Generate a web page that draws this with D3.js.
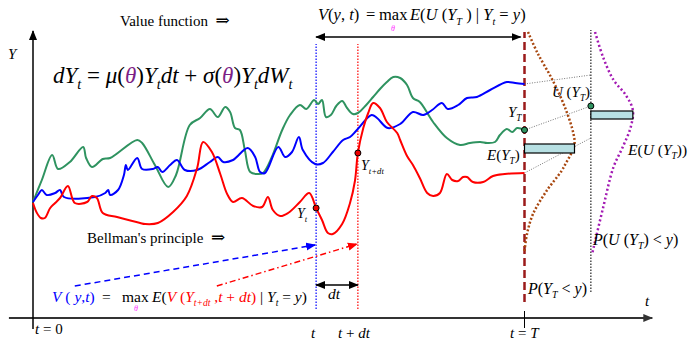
<!DOCTYPE html>
<html>
<head>
<meta charset="utf-8">
<script src="https://cdn.jsdelivr.net/npm/d3@7"></script>
<style>
  body { margin: 0; background: #fff; }
  svg { display: block; font-family: "Liberation Serif", "DejaVu Serif", serif; }
</style>
</head>
<body>
<svg id="chart" width="689" height="342"></svg>
<script>
// sample paths, [t, Y] with t in 0..T (T = 100)
const greenPath = [[0,58],[1.8,69],[3.9,81.5],[5.1,74.5],[7.5,78],[10.2,85.5],[10.8,80],[12,75.5],[14.2,79.5],[15.7,80],
  [21.2,89],[22.2,87.5],[24.8,76.5],[27.5,65.5],[29.1,71.5],[31.9,96.5],[34,100],[36,104.5],[37.6,100.5],[39.1,105.5],
  [40.1,103],[41.1,95],[42.1,94],[43.1,84],[44.2,73],[45.8,72],[46.8,72.5],[48.6,80.5],[50.7,94],[52.3,101.5],
  [54.3,106.5],[55.6,104.5],[57.2,109],[58,107],[58.8,109],[59.6,100.5],[60.6,101.5],[61.7,106],[62.9,108.5],[63.9,105],
  [65.1,102],[66.1,102.5],[67.8,106.5],[69.2,110.5],[70.6,114.5],[72,118],[73.3,120.5],[74.7,120],[76.1,116.5],[77.3,110],
  [78.7,108],[81.4,98],[84.2,90],[86.9,86.5],[88.9,87.5],[91,88],[92.4,87.5],[94,88],[95,91.5],[96.4,94.5],
  [97.5,93],[98.5,95],[100,94]];
const bluePath = [[0,58],[1,61.5],[1.8,64],[2.8,61.5],[4.5,62.5],[5.5,64],[6.3,60.5],[12.6,60.5],[14.7,62.5],[15.3,64],
  [15.7,61.5],[17.3,64],[18.5,71.5],[18.9,76.5],[19.3,74],[21.2,80],[22.2,74.5],[24.4,74.5],[25.4,75.5],[26.3,73],
  [27.9,76.5],[29.3,79],[30.9,74],[33.4,74],[36,78],[37.6,80.5],[38.7,78],[40.7,79],[43.7,85],[45.2,80.5],
  [46.2,73],[47.2,72.5],[49.9,85.5],[51.3,80.5],[52.7,83],[54.1,90.5],[54.9,84],[57.4,77],[59,77.5],[61,83],
  [63.1,89],[64.5,90.5],[65.9,94],[68.9,101.5],[70,100],[72.2,95],[74.7,97],[77.3,103],[79.4,101.5],[81.2,104],
  [83.2,107.5],[84.4,104.5],[86.5,106.5],[88.3,110],[90.3,110.5],[93,114],[96.4,118],[98.1,117.5],[100,117]];
const redPath = [[0,57.5],[0.8,52.5],[1.6,50],[2.4,50],[3.5,55],[4.5,57.5],[5.5,60],[7.1,66],[8.5,57.5],[11,58],
  [12,61],[13,60],[14.2,52.5],[17.1,50.5],[21.8,47.5],[22.8,47],[25.4,47.5],[28.5,53],[31.3,61],[33.4,75],
  [34.6,88],[36.4,83],[38.1,72],[39.5,62],[40.7,58],[42.5,60],[44.8,56],[46.6,55.5],[47.8,60.5],[48.8,54],
  [50.3,51],[51.9,52.5],[54.3,58],[56.2,62.5],[57.6,55],[58.8,49],[60,42.5],[61,42],[62.9,47],[64.5,57.5],
  [65.5,68.5],[66.1,82.5],[67.2,95],[68.2,102.5],[69.2,107.5],[70.6,105],[72,98],[74.1,92.5],[74.7,89],[76.1,81],
  [77.3,76.5],[78.7,70],[80.2,62.5],[81.4,61],[82.8,62.5],[84.2,72],[85.3,69],[86.5,68.5],[87.5,70.5],[88.3,70.5],
  [89.5,68],[91.6,68],[93.6,71],[96,72],[100,72.5]];

const tNow = 57.6, tNext = 66.1, T = 100, tU = 113.5;

// densities at T: [Y, relative density]
const densityY = [[143,0.07],[132.5,0.26],[119,0.56],[104,0.83],[92,0.98],[87,1],[82,0.93],[77.5,0.83],[73.5,0.74],
  [63.5,0.44],[52,0.17],[42,0.05],[33.5,0]];
const densityU = [[143,0.1],[130.5,0.29],[119,0.54],[111.5,0.83],[104,1],[95.5,0.95],[85.5,0.76],[75.5,0.54],
  [55,0.29],[32,0.03]];
const expectY = [82.5, 87];     // E(Y_T) band
const expectU = [99.5, 103.5];  // E(U(Y_T)) band
const utilIn = [72.5, 94, 117];
const utilOut = [90, 106, 121.5];

const svg = d3.select('#chart');
const x = d3.scaleLinear().domain([0, T]).range([33, 524.5]);
const y = d3.scaleLinear().domain([0, 144]).range([318, 30]);
const densX = d3.scaleLinear().domain([0, 1]).range([0, 50]);
const densUX = d3.scaleLinear().domain([0, 1]).range([0, 42]);

const defs = svg.append('defs');
function marker(id, color) {
  defs.append('marker').attr('id', id).attr('viewBox', '0 0 10 10').attr('refX', 9).attr('refY', 5)
    .attr('markerWidth', 10).attr('markerHeight', 10).attr('markerUnits', 'userSpaceOnUse').attr('orient', 'auto-start-reverse')
    .append('path').attr('d', 'M0,1 L10,5 L0,9 Z').attr('fill', color);
}
marker('arBlack', '#000');
marker('arGray', '#333');
marker('arBlue', '#0000ff');
marker('arRed', '#ff0000');

function seg(x1, y1, x2, y2) {
  return svg.append('line').attr('x1', x(x1)).attr('y1', y(y1)).attr('x2', x(x2)).attr('y2', y(y2));
}

// axes
seg(-4.9, 0, 126, 0).attr('stroke', '#333').attr('stroke-width', 2).attr('marker-end', 'url(#arGray)');
seg(0, -5.5, 0, 143.5).attr('stroke', '#000').attr('stroke-width', 1.5).attr('marker-end', 'url(#arBlack)');
seg(T, 3.5, T, -5).attr('stroke', '#000').attr('stroke-width', 1);

// vertical guides
seg(tNow, 4.5, tNow, 137).attr('stroke', '#0000ff').attr('stroke-width', 1.2).attr('stroke-dasharray', '1.5,1.5');
seg(tNext, 4.5, tNext, 137).attr('stroke', '#ff0000').attr('stroke-width', 1.2).attr('stroke-dasharray', '1.5,1.5');
seg(tU, 13, tU, 144).attr('stroke', '#333').attr('stroke-width', 1.3).attr('stroke-dasharray', '1.5,1.5');
seg(T, 8, T, 143).attr('stroke', '#9b1b1b').attr('stroke-width', 2.5).attr('stroke-dasharray', '8,4');

// top span arrow and dt arrow
seg(tNow, 140.5, 99.2, 140.5).attr('stroke', '#000').attr('stroke-width', 1.3)
  .attr('marker-start', 'url(#arBlack)').attr('marker-end', 'url(#arBlack)');
seg(tNow, 16.5, tNext, 16.5).attr('stroke', '#000').attr('stroke-width', 1.3)
  .attr('marker-start', 'url(#arBlack)').attr('marker-end', 'url(#arBlack)');

// Bellman arrows
seg(8.5, 16, 57.4, 36.5).attr('stroke', '#0000ff').attr('stroke-width', 1.5).attr('stroke-dasharray', '6,4')
  .attr('marker-end', 'url(#arBlue)');
seg(37.4, 16, 65.9, 37).attr('stroke', '#ff0000').attr('stroke-width', 1.5).attr('stroke-dasharray', '6,3,1.5,3')
  .attr('marker-end', 'url(#arRed)');

// utility mapping lines
utilIn.forEach((v, i) => {
  seg(T, v, tU, utilOut[i]).attr('stroke', '#555').attr('stroke-width', 0.8).attr('stroke-dasharray', '1,1.5');
});

// densities
const densLine = d3.line().x(d => x(T) + densX(d[1])).y(d => y(d[0])).curve(d3.curveCatmullRom);
svg.append('path').attr('d', densLine(densityY)).attr('fill', 'none').attr('stroke', '#a8470f')
  .attr('stroke-width', 2.5).attr('stroke-dasharray', '2,2');
const densULine = d3.line().x(d => x(tU) + densUX(d[1])).y(d => y(d[0])).curve(d3.curveCatmullRom);
svg.append('path').attr('d', densULine(densityU)).attr('fill', 'none').attr('stroke', '#a31ab3')
  .attr('stroke-width', 2.5).attr('stroke-dasharray', '2,2.5');

// expectation bands
svg.append('rect').attr('x', x(T)).attr('y', y(expectY[1])).attr('width', densX(1)).attr('height', y(expectY[0]) - y(expectY[1]))
  .attr('fill', '#b7e0e3').attr('stroke', '#000').attr('stroke-width', 1.2);
svg.append('rect').attr('x', x(tU)).attr('y', y(expectU[1])).attr('width', densUX(1)).attr('height', y(expectU[0]) - y(expectU[1]))
  .attr('fill', '#b7e0e3').attr('stroke', '#000').attr('stroke-width', 1.2);

// sample paths
const line = d3.line().x(d => x(d[0])).y(d => y(d[1])).curve(d3.curveCatmullRom.alpha(0.5));
[[greenPath, '#2f9360'], [bluePath, '#0000ff'], [redPath, '#ff0000']].forEach(([p, c]) => {
  svg.append('path').attr('d', line(p)).attr('fill', 'none').attr('stroke', c).attr('stroke-width', 2)
    .attr('stroke-linejoin', 'round');
});

// dots
const atT = t => redPath.find(d => d[0] === t)[1];
[[tNow, atT(tNow), '#e00'], [tNext, atT(tNext), '#e00'], [T, greenPath[greenPath.length - 1][1], '#2f9360'], [tU, utilOut[1], '#2f9360']]
  .forEach(([t, v, c]) => {
    svg.append('circle').attr('cx', x(t)).attr('cy', y(v)).attr('r', 3).attr('fill', c).attr('stroke', '#000').attr('stroke-width', 1);
  });

// rich text helper: parts = [text, {i, s, c}]
function rich(px, py, size, parts, anchor) {
  const t = svg.append('text').attr('x', px).attr('y', py).attr('font-size', size).attr('fill', '#000')
    .attr('xml:space', 'preserve').style('white-space', 'pre');
  if (anchor) t.attr('text-anchor', anchor);
  let shift = 0;
  parts.forEach(([str, o = {}]) => {
    const target = o.s ? size * 0.28 : 0;
    const ts = t.append('tspan').text(str);
    if (target !== shift) ts.attr('dy', target - shift);
    shift = target;
    if (o.s) ts.attr('font-size', size * 0.62);
    if (o.i) ts.attr('font-style', 'italic');
    if (o.c) ts.attr('fill', o.c);
  });
  return t;
}
function theta(px, py) {
  svg.append('text').attr('x', px).attr('y', py).attr('font-size', 8).attr('font-style', 'italic')
    .attr('text-anchor', 'middle').attr('fill', '#ff33ff').text('\u03B8');
}
const I = { i: 1 }, S = { i: 1, s: 1 };
const purple = '#7d1f86', blue = '#0000ff', red = '#ff0000';
const B = c => ({ c }), BI = c => ({ i: 1, c });

rich(120, 26, 15, [['Value function  '], ['\u21D2', {}]]).select('tspan:last-child').attr('font-size', 17);

// V(y,t) = max E(U(Y_T) | Y_t = y)
rich(318, 20, 16.5, [['V', I], ['('], ['y', I], [', '], ['t', I], [')']]);
rich(366, 20, 16.5, [['=']]);
rich(379, 20, 16.5, [['max']]);
theta(393, 31);
rich(410, 20, 16.5, [['E', I], ['('], ['U', I], [' ('], ['Y', I], ['T', S], [' ) | '], ['Y', I], ['t', S], [' = '], ['y', I], [')']]);

rich(53, 83, 23, [['dY', I], ['t', S], [' = '], ['\u03BC', I], ['('], ['\u03B8', { i: 1, c: purple }], [')'], ['Y', I], ['t', S],
  ['dt', I], [' + '], ['\u03C3', I], ['('], ['\u03B8', { i: 1, c: purple }], [')'], ['Y', I], ['t', S], ['dW', I], ['t', S]]);

rich(8, 59, 15, [['Y', I]]);
rich(35, 334, 15, [['t', I], [' = 0']]);
rich(313, 338, 15, [['t', I]], 'middle');
rich(338, 338, 15, [['t', I], [' + '], ['dt', I]]);
rich(510, 338, 15, [['t', I], [' = '], ['T', I]]);
rich(645, 306, 15, [['t', I]]);

rich(87, 243, 15, [['Bellman\'s principle  '], ['\u21D2', {}]]).select('tspan:last-child').attr('font-size', 17);

// V(y,t) = max E(V(Y_{t+dt}, t+dt) | Y_t = y)
rich(52, 302, 15.5, [['V', BI(blue)], [' ( ', B(blue)], ['y', BI(blue)], [',', B(blue)], ['t', BI(blue)], [')', B(blue)]]);
rich(102, 302, 15.5, [['=']]);
rich(122, 302, 15.5, [['max']]);
theta(136, 311);
rich(152, 302, 15.5, [['E', I], ['('], ['V', BI(red)], [' (', B(red)], ['Y', BI(red)], ['t+dt', { i: 1, s: 1, c: red }],
  [' ,', B(red)], ['t', BI(red)], [' + ', B(red)], ['dt', BI(red)], [')', B(red)], [' | '], ['Y', I], ['t', S], [' = '], ['y', I], [')']]);
rich(328, 299, 15.5, [['dt', I]]);

rich(297, 218, 14, [['Y', I], ['t', S]]);
rich(361, 170, 14, [['Y', I], ['t+dt', S]]);
rich(508, 117, 15, [['Y', I], ['T', S]]);
rich(487, 160, 15, [['E', I], ['('], ['Y', I], ['T', S], [')']]);
rich(552, 97, 15, [['U', I], [' ('], ['Y', I], ['T', S], [')']]);
rich(628, 155, 15.5, [['E', I], ['('], ['U', I], [' ('], ['Y', I], ['T', S], ['))']]);
rich(593, 245, 16, [['P', I], ['('], ['U', I], [' ('], ['Y', I], ['T', S], [') < '], ['y', I], [')']]);
rich(528, 294, 16, [['P', I], ['('], ['Y', I], ['T', S], [' < '], ['y', I], [')']]);
</script>
</body>
</html>
